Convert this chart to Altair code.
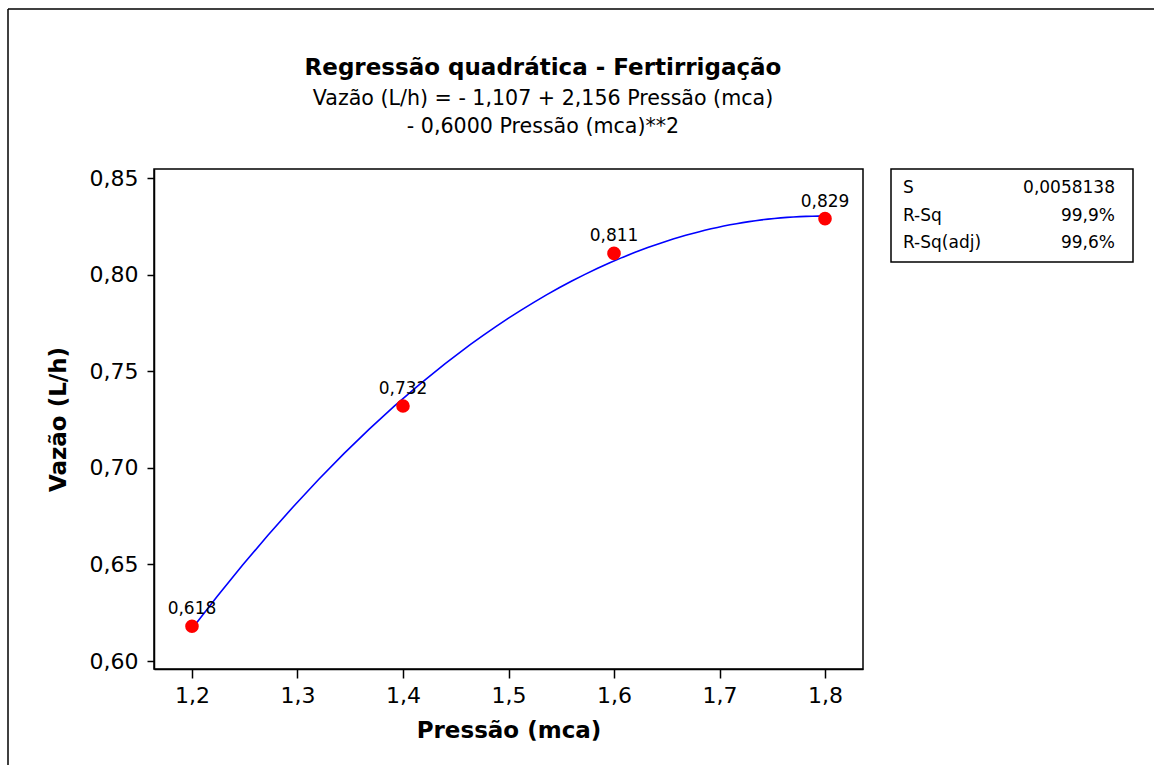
import altair as alt
import pandas as pd

# Measured flow rate per pressure level
pressao = [1.2, 1.4, 1.6, 1.8]
vazao = [0.618, 0.732, 0.811, 0.829]

# Axis ticks
x_ticks = [1.2, 1.3, 1.4, 1.5, 1.6, 1.7, 1.8]
y_ticks = [0.60, 0.65, 0.70, 0.75, 0.80, 0.85]

# Fit summary table
stat_names = ["S", "R-Sq", "R-Sq(adj)"]
stat_values = ["0,0058138", "99,9%", "99,6%"]

titulo = "Regressão quadrática - Fertirrigação"
equacao_1 = "Vazão (L/h) =  - 1,107 + 2,156 Pressão (mca)"
equacao_2 = "- 0,6000 Pressão (mca)**2"

FONT = "DejaVu Sans"
W, H = 709, 500

df = pd.DataFrame({"pressao": pressao, "vazao": vazao})

x_enc = alt.X(
    "pressao:Q",
    scale=alt.Scale(domain=[1.164, 1.836], nice=False, zero=False),
    axis=alt.Axis(
        title="Pressão (mca)", values=x_ticks, tickSize=9, labelPadding=7,
        titlePadding=13,
        labelExpr="replace(format(datum.value, '.1f'), '.', ',')",
    ),
)
y_enc = alt.Y(
    "vazao:Q",
    scale=alt.Scale(domain=[0.5959, 0.8547], nice=False, zero=False),
    axis=alt.Axis(
        title="Vazão (L/h)", values=y_ticks, tickSize=7, labelPadding=9,
        titlePadding=19,
        labelExpr="replace(format(datum.value, '.2f'), '.', ',')",
    ),
)

base = alt.Chart(df)

fit = base.transform_regression(
    "pressao", "vazao", method="poly", order=2
).mark_line(color="#0000ff", strokeWidth=1.6).encode(x=x_enc, y=y_enc)

points = base.mark_circle(color="#ff0000", size=185, opacity=1).encode(
    x="pressao:Q", y="vazao:Q"
)

labels = base.transform_calculate(
    rotulo="replace(format(datum.vazao, '.3f'), '.', ',')"
).mark_text(font=FONT, fontSize=17, dy=-12, baseline="alphabetic",
            align="center", color="black").encode(
    x="pressao:Q", y="vazao:Q", text="rotulo:N"
)

def text_line(txt, y, bold=False, size=20):
    return alt.Chart(pd.DataFrame({"t": [txt]})).mark_text(
        font=FONT, fontSize=size, fontWeight="bold" if bold else "normal",
        align="center", baseline="alphabetic", color="black",
    ).encode(text="t:N", x=alt.value(389), y=alt.value(y))

title_1 = text_line(titulo, -94, bold=True, size=23)
title_2 = text_line(equacao_1, -64, size=20.6)
title_3 = text_line(equacao_2, -36, size=20.6)

# Outer page frame (left and top edges)
frame_df = pd.DataFrame({"k": [0]})
frame_left = alt.Chart(frame_df).mark_rule(color="black", strokeWidth=1.5).encode(
    x=alt.value(-146), y=alt.value(-160), y2=alt.value(596)
)
frame_top = alt.Chart(frame_df).mark_rule(color="black", strokeWidth=1.5).encode(
    x=alt.value(-146), x2=alt.value(1000), y=alt.value(-160)
)

main = alt.layer(
    fit, points, labels, title_1, title_2, title_3, frame_left, frame_top
).properties(width=W, height=H)

stats = pd.DataFrame({"nome": stat_names, "valor": stat_values})
y_row = alt.Y("nome:N", sort=stat_names,
              scale=alt.Scale(type="point", padding=0.7), axis=None)
stat_names_layer = alt.Chart(stats).mark_text(
    font=FONT, fontSize=17, align="left", baseline="middle", color="black"
).encode(x=alt.value(12), y=y_row, text="nome:N")
stat_vals_layer = alt.Chart(stats).mark_text(
    font=FONT, fontSize=17, align="right", baseline="middle", color="black"
).encode(x=alt.value(224), y=y_row, text="valor:N")
table = alt.layer(stat_names_layer, stat_vals_layer).properties(width=242, height=93)

chart = alt.hconcat(main, table, spacing=28, bounds="flush").properties(
    padding={"left": 6, "top": 7, "right": 0, "bottom": 0},
    background="white",
).configure_view(
    stroke="black", strokeWidth=1.5
).configure_axis(
    grid=False, domainColor="black", domainWidth=1.5, tickColor="black",
    tickWidth=1.5, labelColor="black", titleColor="black",
    labelFont=FONT, titleFont=FONT, labelFontSize=22, titleFontSize=23,
    titleFontWeight="bold",
)

chart.save("out.html", embed_options={"renderer": "svg", "actions": False})
